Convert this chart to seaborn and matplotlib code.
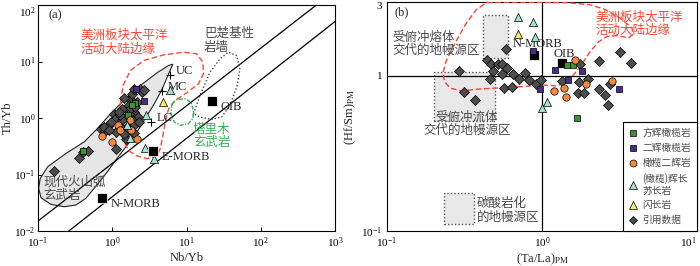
import matplotlib
matplotlib.use('Agg')
import matplotlib.pyplot as plt
from matplotlib.lines import Line2D
from matplotlib.ticker import FixedLocator, FixedFormatter, NullLocator
import seaborn as sns

sns.set_style('ticks')
plt.rcParams['font.family'] = ['Liberation Serif', 'Noto Sans CJK SC']
plt.rcParams['mathtext.fontset'] = 'stix'
plt.rcParams['axes.unicode_minus'] = False
CJK = ['Noto Sans CJK SC', 'DejaVu Sans']

C_HZ, C_LZ, C_WEB = '#3e9236', '#4a2a8c', '#f5883a'
C_GAB, C_DIO, C_DIA = '#a3e2d2', '#f4ec6c', '#4d4d4d'
C_RED, C_GRN, C_TXT = '#ff4433', '#33b358', '#4a4a4a'

# ---------------- panel (a): Th/Yb vs Nb/Yb ----------------
a_dia_x = [0.166, 0.358, 0.409, 0.472, 0.698, 0.789, 0.875, 1.11, 1.05, 1.11, 0.97, 1.36, 1.29, 1.51,
           1.43, 1.72, 1.85, 1.99, 2.35, 2.52, 2.16, 1.99, 2.21, 1.80, 1.91, 1.99, 1.59, 1.56, 1.67,
           1.36, 1.27, 1.14, 1.46, 1.67, 1.80, 2.05, 2.66, 1.23, 2.28, 0.77, 0.90]
a_dia_y = [0.115, 0.197, 0.251, 0.258, 0.648, 0.582, 0.723, 0.280, 1.19, 1.00, 0.85, 0.91, 1.11, 0.432,
           0.53, 2.19, 2.69, 3.2, 3.2, 2.88, 1.92, 1.28, 1.04, 0.97, 0.72, 0.55, 0.69, 1.37, 1.19,
           1.46, 0.69, 0.57, 2.25, 1.67, 1.50, 1.56, 3.08, 1.28, 0.85, 0.69, 0.61]
a_hz_x = [0.40, 2.05, 1.85, 1.62]
a_hz_y = [0.258, 1.84, 1.67, 1.15]
a_lz_x = [2.12, 2.71]
a_lz_y = [3.3, 2.0]
a_web_x = [0.73, 1.19, 1.29, 1.72, 1.80, 1.00, 2.16]
a_web_y = [0.49, 0.74, 0.61, 0.91, 0.61, 0.37, 0.42]
a_gab_x = [2.88, 1.59, 1.76, 2.79, 3.61, 6.04]
a_gab_y = [1.15, 0.74, 0.45, 0.29, 0.19, 3.08]
a_dio_x = [4.82]
a_dio_y = [1.92]

a_ref_names = ['OIB', 'E-MORB', 'N-MORB']
a_ref_x = [22.0, 3.54, 0.73]
a_ref_y = [1.96, 0.26, 0.038]
a_crust_names = ['UC', 'MC', 'LC']
a_crust_x = [6.04, 4.68, 3.33]
a_crust_y = [5.66, 2.95, 0.85]

# MORB-OIB array boundaries
a_line1_x = [0.1, 562]
a_line1_y = [0.015, 100]
a_line2_x = [0.26, 1000]
a_line2_y = [0.010, 51]

# modern volcanic arc basalt field
arc_x = [6.56, 5.74, 4.68, 3.69, 2.94, 2.16, 1.59, 1.23, 0.857, 0.63, 0.44, 0.323, 0.225, 0.149,
         0.110, 0.102, 0.107, 0.135, 0.237, 0.418, 0.63, 0.95, 1.43, 2.40, 4.0, 5.74]
arc_y = [8.97, 6.06, 3.21, 1.79, 1.11, 0.566, 0.330, 0.213, 0.111, 0.0667, 0.0377, 0.0288, 0.0269,
         0.0296, 0.0387, 0.0566, 0.0849, 0.137, 0.235, 0.377, 0.648, 1.19, 2.05, 3.77, 6.31, 8.5]
# American plate Pacific active margin
ama_x = [1.29, 1.40, 1.76, 2.66, 4.92, 9.12, 13.7, 16.6, 16.9, 14.5, 10.1, 7.05, 5.74, 5.18, 4.82,
         4.44, 4.01, 2.94, 2.16, 1.76, 1.56, 1.36, 1.23, 1.29]
ama_y = [1.92, 3.77, 6.93, 10.4, 13.1, 14.6, 13.7, 9.73, 6.06, 4.03, 2.80, 2.05, 1.46, 0.850, 0.494,
         0.288, 0.213, 0.191, 0.213, 0.251, 0.308, 0.494, 0.973, 1.92]
# Tarim basalts
tar_x = [6.36, 7.43, 9.6, 11.4, 12.4, 12.2, 10.6, 8.22, 6.84, 6.17, 6.36]
tar_y = [1.79, 2.13, 2.19, 1.92, 1.37, 0.973, 0.794, 0.743, 0.850, 1.19, 1.79]
# Bachu mafic dykes
bac_x = [12.4, 15.2, 20.7, 28.2, 36.5, 47.2, 52.3, 48.2, 38.4, 29.7, 21.8, 15.2, 12.4]
bac_y = [1.19, 2.51, 6.48, 11.1, 14.6, 12.8, 7.43, 3.77, 1.67, 1.04, 0.947, 1.04, 1.19]

# ---------------- panel (b): (Hf/Sm)PM vs (Ta/La)PM ----------------
b_dia_x = [0.583, 0.444, 0.471, 0.520, 0.555, 0.592, 0.485, 0.555, 0.653, 0.711, 0.776, 0.462, 0.291,
           0.569, 0.644, 0.314, 0.368, 0.820, 0.919, 0.99, 1.75, 2.32, 3.17, 3.77, 1.35, 1.72, 1.97,
           1.71, 1.88, 2.32, 2.56, 2.65, 2.73]
b_dia_y = [1.50, 1.26, 1.20, 1.19, 1.19, 1.12, 1.08, 1.03, 1.03, 0.953, 1.04, 0.953, 1.08, 0.834, 0.850,
           0.789, 0.698, 0.938, 0.885, 0.946, 1.19, 1.24, 1.43, 1.22, 0.929, 0.916, 0.953, 0.782,
           0.774, 0.822, 0.755, 0.649, 0.885]
b_hz_x = [1.44, 1.58, 1.67]
b_hz_y = [1.17, 1.18, 0.535]
b_lz_x = [0.875, 1.22, 1.81, 1.47, 0.97, 3.12]
b_lz_y = [1.45, 1.09, 1.07, 0.94, 0.822, 0.83]
b_web_x = [1.64, 1.19, 1.38, 1.42, 1.93, 2.83]
b_web_y = [1.26, 0.80, 0.842, 0.733, 0.885, 0.929]
b_gab_x = [0.700, 0.875, 0.897, 1.08, 1.00]
b_gab_y = [2.39, 2.23, 1.78, 0.681, 0.621]
b_dio_x = [0.700]
b_dio_y = [1.87]

b_ref_names = ['N-MORB', 'OIB']
b_ref_x = [0.883, 1.35]
b_ref_y = [1.36, 1.22]

# source-region boxes: (x0, x1, y0, y1)
box_melt = (0.416, 0.600, 1.30, 2.46)
box_fluid = (0.200, 0.500, 0.509, 1.066)
box_carb = (0.234, 0.362, 0.111, 0.177)

amb_x = [0.442, 0.929, 1.45, 2.05, 2.56, 3.20, 3.81, 3.86, 3.62, 3.05, 2.63, 2.32, 2.10, 1.95, 1.81,
         1.68, 1.49, 1.25, 0.975, 0.80, 0.625, 0.488, 0.381, 0.305, 0.256, 0.235, 0.230, 0.241,
         0.272, 0.320, 0.377, 0.442]
amb_y = [2.99, 2.99, 2.97, 2.88, 2.68, 2.36, 2.04, 1.85, 1.76, 1.82, 1.80, 1.66, 1.48, 1.34, 1.19,
         1.08, 0.938, 0.863, 0.876, 0.859, 0.842, 0.834, 0.822, 0.801, 0.834, 0.920, 1.05, 1.25,
         1.60, 2.14, 2.68, 2.99]

legend_labels = ['方辉橄榄岩', '二辉橄榄岩', '橄榄二辉岩', '(橄榄)辉长\n苏长岩', '闪长岩', '引用数据']

fig = plt.figure(figsize=(7, 2.66), dpi=100)
ax1 = fig.add_axes([38 / 700, 1 - 231 / 266, 297 / 700, 226 / 266])
ax2 = fig.add_axes([387 / 700, 1 - 231 / 266, 310 / 700, 229 / 266])


def style_axes(ax):
    ax.set_xscale('log')
    ax.set_yscale('log')
    ax.xaxis.set_minor_locator(NullLocator())
    ax.yaxis.set_minor_locator(NullLocator())
    ax.tick_params(direction='in', length=3, width=0.7, labelsize=8, colors='black')
    for sp in ax.spines.values():
        sp.set_visible(True)
        sp.set_color('black')
        sp.set_linewidth(0.8)


def dots(ax, x, y, marker, color, s, z):
    sns.scatterplot(x=x, y=y, ax=ax, marker=marker, s=s, color=color, edgecolor='black',
                    linewidth=0.5, zorder=z, legend=False)


def samples(ax, d):
    dots(ax, d[0], d[1], 'D', C_DIA, 26, 4)
    dots(ax, d[2], d[3], 's', C_HZ, 22, 5)
    dots(ax, d[4], d[5], 's', C_LZ, 22, 5)
    dots(ax, d[6], d[7], 'o', C_WEB, 28, 5)
    dots(ax, d[8], d[9], '^', C_GAB, 34, 5)
    dots(ax, d[10], d[11], '^', C_DIO, 34, 5)


# ---- (a)
style_axes(ax1)
ax1.fill(arc_x, arc_y, facecolor='#e6e6e6', edgecolor='#222222', lw=0.8, zorder=1)
ax1.plot(a_line1_x, a_line1_y, color='black', lw=0.9, zorder=2)
ax1.plot(a_line2_x, a_line2_y, color='black', lw=0.9, zorder=2)
ax1.plot(ama_x, ama_y, color=C_RED, lw=1.0, dashes=(4, 2), zorder=3)
ax1.plot(tar_x, tar_y, color=C_GRN, lw=1.0, ls=(0, (3, 1, 1, 1)), zorder=3)
ax1.plot(bac_x, bac_y, color='#444444', lw=1.0, ls=(0, (1, 1.5)), zorder=3)
samples(ax1, [a_dia_x, a_dia_y, a_hz_x, a_hz_y, a_lz_x, a_lz_y, a_web_x, a_web_y,
              a_gab_x, a_gab_y, a_dio_x, a_dio_y])
sns.scatterplot(x=a_ref_x, y=a_ref_y, ax=ax1, marker='s', s=45, color='black', zorder=6, legend=False)
sns.scatterplot(x=a_crust_x, y=a_crust_y, ax=ax1, marker='+', s=40, color='black', linewidth=0.8,
                zorder=6, legend=False)
for name, x, y in zip(a_ref_names, a_ref_x, a_ref_y):
    ax1.annotate(name, (x, y), xytext=(6, -4), textcoords='offset points', fontsize=9, va='center')
for name, x, y in zip(a_crust_names, a_crust_x, a_crust_y):
    ax1.annotate(name, (x, y), xytext=(4, 3), textcoords='offset points', fontsize=9, va='center')
ax1.text(0.377, 37.7, '美洲板块太平洋\n活动大陆边缘', color=C_RED, fontsize=9, family=CJK,
         va='top', ha='left', linespacing=1.05)
ax1.text(17.2, 40.4, '巴楚基性\n岩墙', color=C_TXT, fontsize=9, family=CJK, va='top', linespacing=1.05)
ax1.text(12.2, 0.83, '塔里木\n玄武岩', color=C_GRN, fontsize=9, family=CJK, va='top', linespacing=1.05)
ax1.text(0.119, 0.097, '现代火山弧\n玄武岩', color=C_TXT, fontsize=9, family=CJK, va='top',
         linespacing=1.05)
ax1.text(0.035, 0.955, '(a)', transform=ax1.transAxes, fontsize=9, va='center')
ax1.set_xlim(0.1, 1000)
ax1.set_ylim(0.01, 100)
ax1.xaxis.set_major_locator(FixedLocator([0.1, 1, 10, 100, 1000]))
ax1.yaxis.set_major_locator(FixedLocator([0.01, 0.1, 1, 10, 100]))
ax1.set_xlabel('Nb/Yb', fontsize=9, labelpad=1)
ax1.set_ylabel('Th/Yb', fontsize=9, labelpad=0)
ax1.tick_params(axis='y', pad=2)
ax1.get_yticklabels()[-1].set_va('top')

# ---- (b)
style_axes(ax2)
for x0, x1, y0, y1 in [box_melt, box_fluid, box_carb]:
    ax2.fill([x0, x1, x1, x0], [y0, y0, y1, y1], facecolor='#e8e8e8', edgecolor='#555555',
             lw=1.0, ls=(0, (1, 1.5)), zorder=1)
ax2.axvline(1, color='black', lw=0.9, zorder=2)
ax2.axhline(1, color='black', lw=0.9, zorder=2)
ax2.plot(amb_x, amb_y, color=C_RED, lw=1.0, dashes=(4, 2), zorder=3)
samples(ax2, [b_dia_x, b_dia_y, b_hz_x, b_hz_y, b_lz_x, b_lz_y, b_web_x, b_web_y,
              b_gab_x, b_gab_y, b_dio_x, b_dio_y])
sns.scatterplot(x=b_ref_x, y=b_ref_y, ax=ax2, marker='s', s=45, color='black', zorder=4.5, legend=False)
ax2.text(0.650, 1.60, 'N-MORB', fontsize=9, va='center')
ax2.text(1.19, 1.38, 'OIB', fontsize=9, va='center')
ax2.text(2.21, 2.64, '美洲板块太平洋\n活动大陆边缘', color=C_RED, fontsize=9, family=CJK,
         va='top', linespacing=1.05, zorder=6)
ax2.text(0.108, 1.96, '受俯冲熔体\n交代的地幔源区', color=C_TXT, fontsize=9, family=CJK, va='top',
         linespacing=1.05)
ax2.text(0.328, 0.597, '受俯冲流体\n交代的地幔源区', color=C_TXT, fontsize=9, family=CJK, va='top',
         ha='center', multialignment='center', linespacing=1.05)
ax2.text(0.381, 0.166, '碳酸岩化\n的地幔源区', color=C_TXT, fontsize=9, family=CJK, va='top',
         linespacing=1.05)
ax2.text(0.025, 0.955, '(b)', transform=ax2.transAxes, fontsize=9, va='center')
ax2.set_xlim(0.1, 10)
ax2.set_ylim(0.1, 3)
ax2.xaxis.set_major_locator(FixedLocator([0.1, 1, 10]))
ax2.yaxis.set_major_locator(FixedLocator([0.1, 1, 3]))
ax2.yaxis.set_major_formatter(FixedFormatter(['$\\mathdefault{10^{-1}}$', '1', '3']))
ax2.set_xlabel('(Ta/La)$_{\\mathrm{PM}}$', fontsize=9, labelpad=1)
ax2.set_ylabel('(Hf/Sm)$_{\\mathrm{PM}}$', fontsize=9, labelpad=2)
ax2.get_yticklabels()[-1].set_va('top')
ax2.get_xticklabels()[-1].set_ha('right')

handles = [
    Line2D([], [], ls='none', marker='s', ms=4.5, mfc=C_HZ, mec='black', mew=0.5),
    Line2D([], [], ls='none', marker='s', ms=4.5, mfc=C_LZ, mec='black', mew=0.5),
    Line2D([], [], ls='none', marker='o', ms=5, mfc=C_WEB, mec='black', mew=0.5),
    Line2D([], [], ls='none', marker='^', ms=5.5, mfc=C_GAB, mec='black', mew=0.5),
    Line2D([], [], ls='none', marker='^', ms=5.5, mfc=C_DIO, mec='black', mew=0.5),
    Line2D([], [], ls='none', marker='D', ms=4.5, mfc=C_DIA, mec='black', mew=0.5),
]
leg = ax2.legend(handles, legend_labels, loc='lower right', borderaxespad=0, fancybox=False,
                 frameon=True, edgecolor='black', framealpha=1, prop={'family': CJK, 'size': 7},
                 handlelength=0.8, handletextpad=0.6, labelspacing=0.5, borderpad=0.6)
leg.get_frame().set_linewidth(0.8)
leg.set_zorder(10)
for t in leg.get_texts():
    t.set_color(C_TXT)

fig.savefig('out.png', dpi=100)
